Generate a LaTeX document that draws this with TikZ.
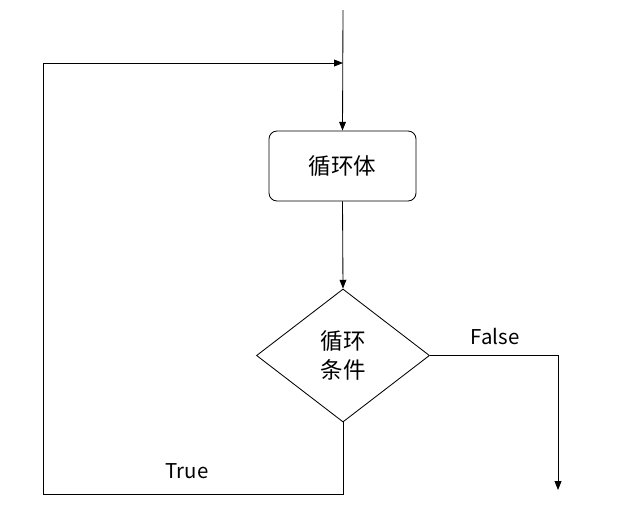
\documentclass[tikz,border=0pt]{standalone}
\usepackage{fontspec}
\setmainfont{Noto Sans CJK SC}
\usepackage{tikz}
\usetikzlibrary{arrows.meta, shapes.geometric}

\begin{document}
\begin{tikzpicture}[
  x=0.025cm, y=-0.025cm,
  font=\fontsize{16}{21}\selectfont,
  >={Triangle[length=2.2mm, width=1.7mm]},
  line width=0.6pt,
  proc/.style={draw, rounded corners=0.2cm, align=center,
               minimum width=3.675cm, minimum height=1.75cm},
  cond/.style={draw, diamond, align=center, inner sep=0pt,
               minimum width=4.325cm, minimum height=3.325cm},
  lbl/.style={font=\fontsize{14.5}{16}\selectfont},
  arr/.style={->, draw=black},
]
\useasboundingbox (0,0) rectangle (623,520);

% ============ NODES ============
\coordinate (start) at (343,10);
\coordinate (join)  at (343,63);

\node[proc] (body) at (342.5,166) {循环体};
\node[cond] (cond) at (343,355.5) {循环\\条件};

\coordinate (exit)    at (558,490);
\coordinate (loopbot) at (43,494);
\coordinate (looptop) at (43,63);

% ============ ARROWS ============
\draw[arr] (start) -- (body.north);
\draw[arr] (body.south) -- (cond.north);

% False branch
\draw[arr] (cond.east) -| (exit);
\node[lbl] (flab) at (495,337) {False};

% True branch back to the top
\draw[arr] (cond.south) |- (loopbot) -- (looptop) -- (join);
\node[lbl] (tlab) at (187,471) {True};

\end{tikzpicture}
\end{document}
